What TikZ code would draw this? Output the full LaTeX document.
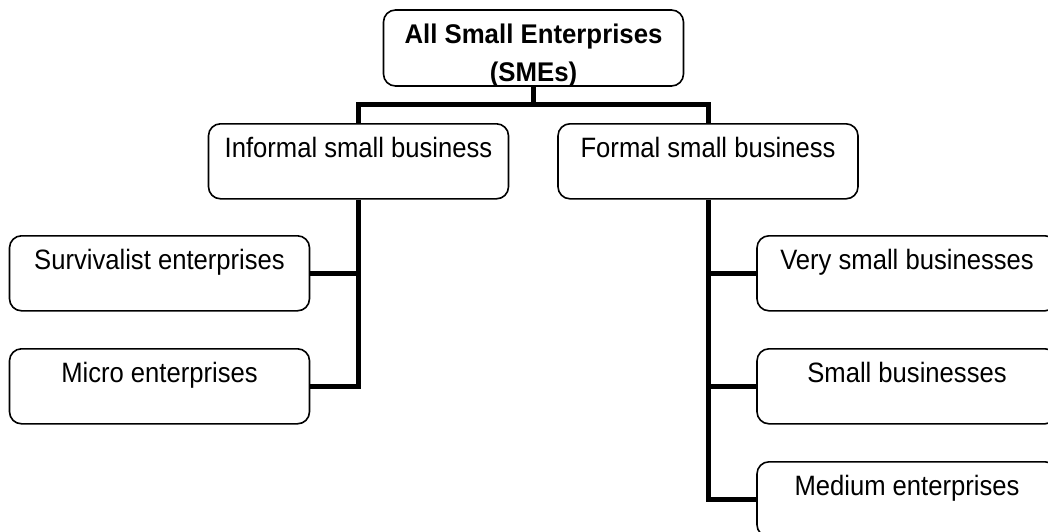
\documentclass[tikz,border=0pt]{standalone}
\usepackage{fontspec}
\setmainfont{Liberation Sans}
\newfontfamily\boxfont[FakeStretch=0.915]{Liberation Sans}
\newfontfamily\ttlfont[FakeStretch=0.955]{Liberation Sans Bold}
\begin{document}
\begin{tikzpicture}[x=1pt,y=-1pt,
  box/.style={draw, line width=1.6pt, rounded corners=12pt, minimum width=300pt,
    inner sep=0pt, text height=34pt, text depth=41pt, font=\boxfont\fontsize{28}{32}\selectfont},
  emptybox/.style={draw, line width=1.6pt, rounded corners=12pt, minimum width=300pt,
    minimum height=76pt, inner sep=0pt},
  conn/.style={line width=5pt, line join=miter, line cap=butt},
  ttl/.style={font=\ttlfont\fontsize{27}{30}\selectfont, inner sep=0pt}]
\useasboundingbox (0,0) rectangle (1048,531);
% top box
\node[emptybox] (top) at (533.5,48) {};
\node[ttl, anchor=base] (t1) at (533.5,43.5) {All Small Enterprises};
\node[ttl, anchor=base] (t2) at (533.5,81) {(SMEs)};
% second level
\node[box, anchor=north] (inf) at (358.5,123) {Informal small business};
\node[box, anchor=north] (for) at (708,123) {Formal small business};
% left leaves
\node[box, anchor=north] (sur) at (159.5,235) {Survivalist enterprises};
\node[box, anchor=north] (mic) at (159.5,348) {Micro enterprises};
% right leaves
\node[box, anchor=north] (vsb) at (907,235) {Very small businesses};
\node[box, anchor=north] (smb) at (907,348) {Small businesses};
\node[box, anchor=north] (med) at (907,461) {Medium enterprises};
% connectors
\coordinate (bar) at (533.5,104.5);
\draw[conn] (top.south) -- (bar);
\draw[conn] (inf.north) |- (bar) -| (for.north);
\draw[conn] (inf.south) |- (mic.east);
\draw[conn] (sur.east) -- (sur.east -| inf.south);
\draw[conn] (for.south) |- (med.west);
\draw[conn] (vsb.west) -- (vsb.west -| for.south);
\draw[conn] (smb.west) -- (smb.west -| for.south);
\end{tikzpicture}
\end{document}
